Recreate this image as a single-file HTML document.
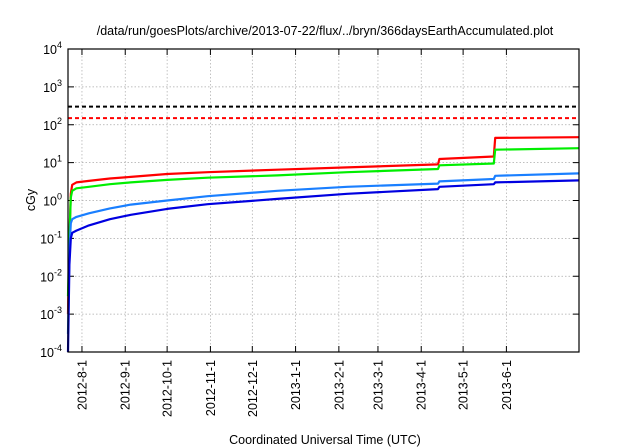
<!DOCTYPE html>
<html><head><meta charset="utf-8"><style>
body{margin:0;background:#fff;}
svg{display:block;font-family:"Liberation Sans",sans-serif;}
</style></head><body>
<svg id="chart" width="640" height="448" viewBox="0 0 640 448">
<text x="325" y="35" font-size="12.5" text-anchor="middle">/data/run/goesPlots/archive/2013-07-22/flux/../bryn/366daysEarthAccumulated.plot</text>
<text x="325" y="444" font-size="12.5" text-anchor="middle">Coordinated Universal Time (UTC)</text>
<text transform="translate(35,200) rotate(-90)" font-size="12.5" text-anchor="middle">cGy</text>
<g id="grid"></g><g id="axes"></g><g id="series"></g>
<rect x="68" y="49" width="511" height="303" fill="none" stroke="#000" stroke-width="1.2"/>
</svg>
<script>
const L=68,R=579,T=49,B=352,DAYS=366;
const yExp=[-4,-3,-2,-1,0,1,2,3,4];
const monthLabels=["2012-8-1","2012-9-1","2012-10-1","2012-11-1","2012-12-1","2013-1-1","2013-2-1","2013-3-1","2013-4-1","2013-5-1","2013-6-1"];
const monthDays=[10,41,71,102,132,163,194,222,253,283,314];
const limitValues=[300,150];
const limitColors=["#000","#f00"];
const seriesColors=["#f00","#0e0","#1a7fff","#0000e0"];
const seriesNames=["series-red","series-green","series-lightblue","series-blue"];
const days=[0,1,2,3,6,15,30,45,71,100,150,200,265,266,305,306,366];
const redVals=[0.001,0.1,1.5,2.6,3.0,3.3,3.8,4.2,5.0,5.6,6.5,7.5,9.0,12.5,14.5,45,47];
const greenVals=[0.003,0.1,1.2,1.8,2.1,2.3,2.7,3.0,3.5,4.0,4.6,5.6,6.8,8.5,9.5,22,24];
const lblueVals=[0.0003,0.05,0.25,0.32,0.37,0.46,0.62,0.78,1.0,1.3,1.8,2.3,2.8,3.2,3.7,4.5,5.2];
const blueVals=[0.0001,0.02,0.1,0.14,0.16,0.22,0.32,0.42,0.6,0.8,1.1,1.5,2.0,2.3,2.7,3.0,3.4];
const allVals=[redVals,greenVals,lblueVals,blueVals];
const NS="http://www.w3.org/2000/svg";
function xs(d){return L+(R-L)*d/DAYS;}
function ys(v){return B-(Math.log10(v)+4)*(B-T)/8;}
function mk(t,a,p){const e=document.createElementNS(NS,t);for(const k in a)e.setAttribute(k,a[k]);p.appendChild(e);return e;}
const g=document.getElementById('grid'),ax=document.getElementById('axes'),sg=document.getElementById('series');
yExp.forEach(e=>{const y=ys(Math.pow(10,e));
 if(e>-4&&e<4){const l=mk('line',{x1:L,x2:R,y1:y,y2:y,stroke:'#aaa','stroke-width':0.7,'stroke-dasharray':'1.5,2'},g);
 }
 mk('line',{x1:L,x2:L+6,y1:y,y2:y,stroke:'#000'},ax);mk('line',{x1:R,x2:R-6,y1:y,y2:y,stroke:'#000'},ax);
 const t=mk('text',{x:L-6,y:y+5,'font-size':12.5,'text-anchor':'end'},ax);
 
 t.innerHTML='10<tspan dy="-6" font-size="9">'+e+'</tspan>';
});
monthDays.forEach((d,i)=>{const x=xs(d);
 const l=mk('line',{x1:x,x2:x,y1:T,y2:B,stroke:'#aaa','stroke-width':0.7,'stroke-dasharray':'1.5,2'},g);
 
 mk('line',{x1:x,x2:x,y1:B,y2:B-6,stroke:'#000'},ax);mk('line',{x1:x,x2:x,y1:T,y2:T+6,stroke:'#000'},ax);
 const t=mk('text',{transform:`translate(${x+4.5},${B+8}) rotate(-90)`,'font-size':12.5,'text-anchor':'end'},ax);
 
 t.textContent=monthLabels[i];
});
limitValues.forEach((v,i)=>{const y=ys(v);
 const l=mk('line',{x1:L,x2:R,y1:y,y2:y,stroke:limitColors[i],'stroke-width':2,'stroke-dasharray':'4,3'},sg);
 
});
allVals.forEach((vals,i)=>{
 const pts=days.map((d,j)=>xs(d).toFixed(1)+','+ys(vals[j]).toFixed(1)).join(' ');
 const p=mk('polyline',{points:pts,fill:'none',stroke:seriesColors[i],'stroke-width':2.2,'stroke-linejoin':'round'},sg);
 
});
</script>
</body></html>
